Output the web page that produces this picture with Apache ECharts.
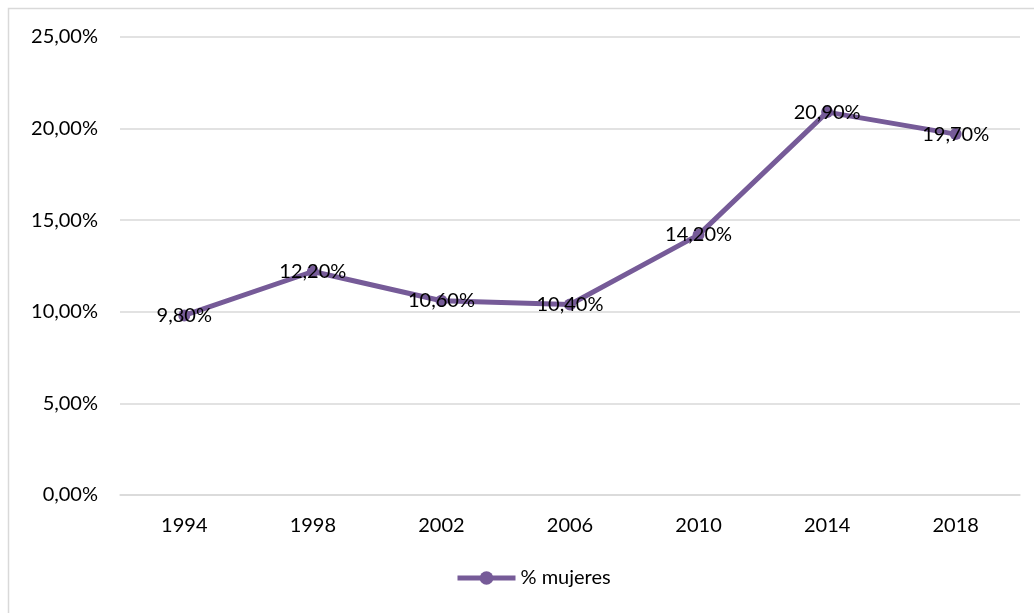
<!DOCTYPE html>
<html><head><meta charset="utf-8">
<script src="https://cdn.jsdelivr.net/npm/echarts@6/dist/echarts.min.js"></script>
<style>html,body{margin:0;padding:0;background:#fff}#c{width:1034px;height:613px}</style>
</head><body><div id="c"></div>
<script>
const years = ['1994','1998','2002','2006','2010','2014','2018'];
const mujeres = [9.8, 12.2, 10.6, 10.4, 14.2, 20.9, 19.7];
const seriesName = '% mujeres';
const fmt = v => v.toFixed(2).replace('.', ',') + '%';
const chart = echarts.init(document.getElementById('c'));
const purple = '#765b98';
const font = 'Lato, "Open Sans", sans-serif';
chart.setOption({
  animation: false,
  graphic: [{type:'rect', shape:{x:8.5,y:8.5,width:1040,height:620}, style:{fill:'none', stroke:'#d9d9d9', lineWidth:1.5}, silent:true}],
  grid: {left:120, right:14, top:37, bottom:118},
  legend: {bottom:20, left:450, itemWidth:58, itemHeight:17, itemGap:10,
    lineStyle:{width:5, color:purple}, itemStyle:{color:purple},
    textStyle:{fontSize:20, color:'#000', fontFamily:font}, data:[seriesName]},
  xAxis: {type:'category', data:years, boundaryGap:true, axisLine:{show:true, lineStyle:{color:'#d9d9d9', width:1.5}}, axisTick:{show:false}, axisLabel:{fontSize:20, color:'#000', fontFamily:font, margin:21}},
  yAxis: {type:'value', min:0, max:25, interval:5, axisLine:{show:false}, axisTick:{show:false}, splitLine:{lineStyle:{color:'#d9d9d9', width:1.5}}, axisLabel:{fontSize:20, color:'#000', fontFamily:font, margin:22, formatter:v=>fmt(v)}},
  series: [{name:seriesName, type:'line', data:mujeres, symbol:'circle', symbolSize:12, itemStyle:{color:purple}, lineStyle:{color:purple, width:5},
    label:{show:true, position:'inside', fontSize:20, color:'#000', fontFamily:font, formatter:p=>fmt(p.value)}}]
});
</script></body></html>
